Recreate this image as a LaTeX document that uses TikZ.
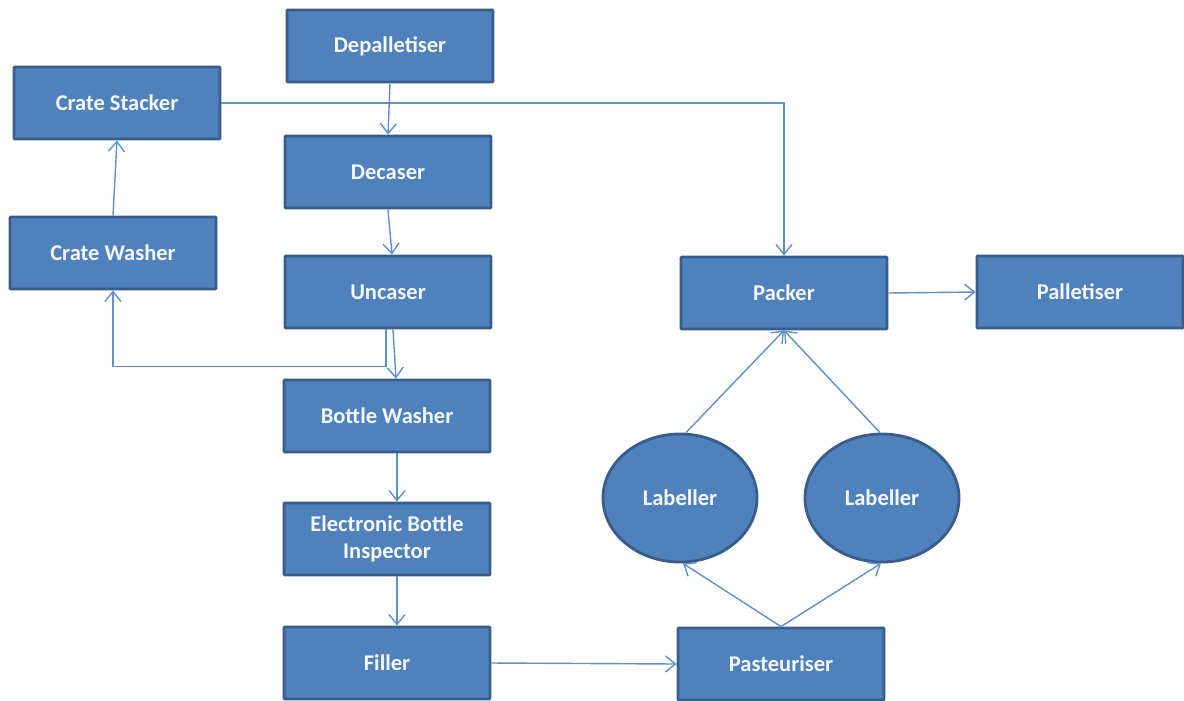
\documentclass[tikz,border=0pt]{standalone}
\usepackage{fontspec}
\setmainfont{Carlito}
\usetikzlibrary{shapes.geometric,arrows.meta,calc}

\definecolor{boxfill}{RGB}{79,129,189}
\definecolor{boxline}{RGB}{56,93,138}
\definecolor{flowline}{RGB}{96,144,204}

\tikzset{
  unit/.style={rectangle, draw=boxline, fill=boxfill, line width=2pt, rounded corners=0.6pt,
    minimum width=5.15cm, minimum height=1.8cm, text=white!94!boxfill, align=center,
    font=\fontsize{16}{19}\selectfont\bfseries},
  labeller/.style={ellipse, draw=boxline, fill=boxfill, line width=2pt,
    minimum width=3.85cm, minimum height=3.2cm, text=white!94!boxfill,
    font=\fontsize{16}{19}\selectfont\bfseries},
  flow/.style={draw=flowline, line width=1pt, -{Straight Barb[length=2.5mm, width=4mm]}}
}

\begin{document}
\begin{tikzpicture}[x=0.025cm, y=-0.025cm]
               \useasboundingbox (0,0) rectangle (1184,700);
               \node[unit] (depal) at (390,46) {Depalletiser};
               \node[unit] (stacker) at (117,103) {Crate Stacker};
               \node[unit] (decaser) at (388,172) {Decaser};
               \node[unit] (cwasher) at (113,253) {Crate Washer};
               \node[unit] (uncaser) at (388,292) {Uncaser};
               \node[unit] (bwasher) at (387,416) {Bottle Washer};
               \node[unit] (ebi) at (387,539) {Electronic Bottle\\Inspector};
               \node[unit] (filler) at (387,663) {Filler};
               \node[unit] (pasteur) at (781,664) {Pasteuriser};
               \node[unit] (packer) at (784,293) {Packer};
               \node[unit] (pallet) at (1080,292) {Palletiser};
               \node[labeller] (labA) at (680,498) {Labeller};
               \node[labeller] (labB) at (882,498) {Labeller};
               \draw[flow] (depal.south) -- (decaser.north);
               \draw[flow] (stacker.east) -| (packer.north);
               \draw[flow] (decaser.south) -- ($(uncaser.north)+(4,0)$);
               \draw[flow] ($(uncaser.south)+(-2,0)$) -- ++(0,37) -| (cwasher.south);
               \draw[flow] ($(uncaser.south)+(5,0)$) -- ($(bwasher.north)+(9,0)$);
               \draw[flow] (cwasher.north) -- (stacker.south);
               \draw[flow] ($(bwasher.south)+(10,0)$) -- ($(ebi.north)+(10,0)$);
               \draw[flow] ($(ebi.south)+(10,0)$) -- ($(filler.north)+(10,0)$);
               \draw[flow] (filler.east) -- (pasteur.west);
               \draw[flow] (pasteur.north) -- ($(labA.south)+(3,0)$);
               \draw[flow] (pasteur.north) -- ($(labB.south)+(-1,0)$);
               \draw[flow] ($(labA.north)+(6,0)$) -- (packer.south);
               \draw[flow] ($(labB.north)+(-2,0)$) -- (packer.south);
               \draw[flow] (packer.east) -- (pallet.west);
            \end{tikzpicture}
\end{document}
